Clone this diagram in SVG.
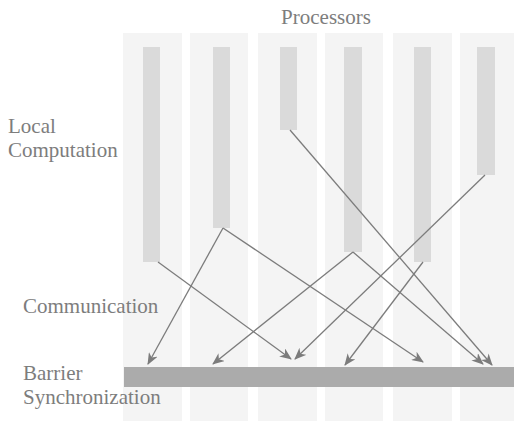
<svg xmlns="http://www.w3.org/2000/svg" width="514" height="421" viewBox="0 0 514 421">
  <defs>
    <style>
      .lane { fill: #f4f4f4; }
      .work { fill: #dadada; }
      .label { font-family: "Liberation Serif", "Times New Roman", serif; font-size: 21px; fill: #7d7d7d; }
      .msg { stroke: #7c7c7c; stroke-width: 1.3; fill: none; marker-end: url(#head); }
    </style>
    <marker id="head" viewBox="0 0 12 10" refX="11" refY="5" markerWidth="12" markerHeight="10" markerUnits="userSpaceOnUse" orient="auto">
      <path d="M0,0 L12,5 L0,10 L3.5,5 Z" fill="#7c7c7c"/>
    </marker>
  </defs>

  <rect width="514" height="421" fill="#ffffff"/>

  <!-- processor lanes with their computation phases -->
  <g id="proc1"><rect class="lane" x="123" y="33" width="59" height="388"/><rect class="work" x="143" y="47" width="17" height="215"/></g>
  <g id="proc2"><rect class="lane" x="190" y="33" width="58" height="388"/><rect class="work" x="213" y="47" width="17" height="181"/></g>
  <g id="proc3"><rect class="lane" x="258" y="33" width="59" height="388"/><rect class="work" x="280" y="47" width="17" height="83"/></g>
  <g id="proc4"><rect class="lane" x="325" y="33" width="58" height="388"/><rect class="work" x="344" y="47" width="18" height="205"/></g>
  <g id="proc5"><rect class="lane" x="393" y="33" width="59" height="388"/><rect class="work" x="414" y="47" width="17" height="215"/></g>
  <g id="proc6"><rect class="lane" x="460" y="33" width="54" height="388"/><rect class="work" x="477" y="47" width="18" height="128"/></g>

  <!-- barrier synchronization bar -->
  <g id="barrier"><rect x="124" y="367" width="390" height="20" fill="#ababab"/></g>

  <!-- messages sent between processors -->
  <g id="connectors">
    <line class="msg" x1="158" y1="262" x2="291" y2="359"/>
    <line class="msg" x1="223" y1="228" x2="148" y2="364"/>
    <line class="msg" x1="223" y1="228" x2="423" y2="362"/>
    <line class="msg" x1="290" y1="130" x2="492" y2="365"/>
    <line class="msg" x1="353" y1="252" x2="213" y2="364"/>
    <line class="msg" x1="353" y1="252" x2="483" y2="364"/>
    <line class="msg" x1="423" y1="262" x2="345" y2="365"/>
    <line class="msg" x1="485" y1="175" x2="295" y2="359"/>
  </g>

  <!-- labels -->
  <g id="labels">
    <text class="label" x="326" y="24" text-anchor="middle">Processors</text>
    <text class="label" x="8" y="133">Local</text>
    <text class="label" x="8" y="157">Computation</text>
    <text class="label" x="23" y="313">Communication</text>
    <text class="label" x="23" y="380">Barrier</text>
    <text class="label" x="23" y="404">Synchronization</text>
  </g>
</svg>
